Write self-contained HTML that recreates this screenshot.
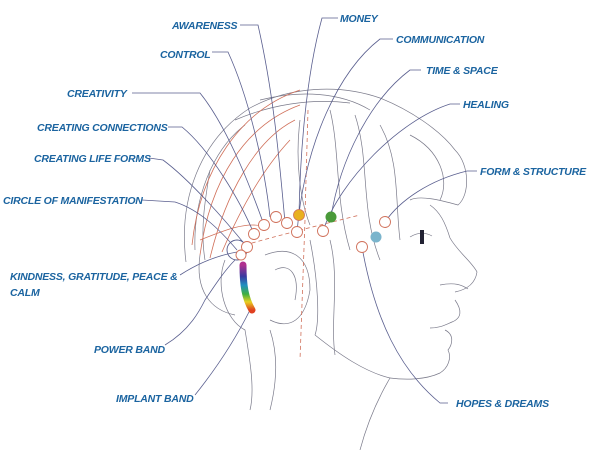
<!DOCTYPE html>
<html><head><meta charset="utf-8"><style>
html,body{margin:0;padding:0;background:#fff}
svg{display:block}
text{font-family:"Liberation Sans",sans-serif;font-weight:bold;font-style:italic;font-size:10.5px;fill:#1b64a0;letter-spacing:-0.2px}
.l{fill:none;stroke:#5a5f8f;stroke-width:0.8}
.h{fill:none;stroke:#7a7a8a;stroke-width:0.7}
.r{fill:none;stroke:#d0705a;stroke-width:0.8}
.c{fill:#fff;stroke:#d0705a;stroke-width:0.9}
</style></head><body>
<svg width="600" height="450" viewBox="0 0 600 450">
<defs><linearGradient id="rb" x1="0" y1="0" x2="0" y2="1">
<stop offset="0" stop-color="#b0308f"/><stop offset="0.25" stop-color="#3a3aa0"/><stop offset="0.45" stop-color="#2090c0"/><stop offset="0.65" stop-color="#40b040"/><stop offset="0.82" stop-color="#e8d020"/><stop offset="1" stop-color="#e04020"/></linearGradient></defs>
<!-- head outline -->
<path class="h" d="M186,262 C178,200 200,140 250,108 C290,86 340,84 380,98 C410,110 440,130 455,150"/>
<path class="h" d="M195,250 C193,200 212,150 245,125"/>
<path class="h" d="M455,150 C470,165 470,195 458,205 C440,200 420,195 410,200"/>
<path class="h" d="M430,205 C440,212 445,222 450,238 C458,252 472,262 477,272 C475,285 465,290 455,292"/>
<path class="h" d="M440,285 C455,282 462,285 468,289"/>
<path class="h" d="M455,300 C462,310 462,318 452,322 C445,325 440,328 430,328"/>
<path class="h" d="M445,330 C455,335 452,345 448,350 C452,358 448,368 440,373 C425,380 405,380 390,378"/>
<path class="h" d="M315,335 C340,355 365,372 390,378 C380,395 368,420 360,450"/>
<path class="h" d="M410,237 C418,232 425,232 432,236"/>
<rect x="420" y="230" width="4" height="14" fill="#223"/>
<!-- hair strands -->
<path class="h" d="M260,100 C300,90 340,92 370,110"/>
<path class="h" d="M235,120 C270,105 310,98 350,103"/>
<path class="h" d="M330,110 C340,150 335,200 350,250"/>
<path class="h" d="M355,115 C370,160 360,210 380,260"/>
<path class="h" d="M380,125 C400,160 395,200 400,240"/>
<path class="h" d="M410,135 C440,150 450,180 440,200"/>
<path class="h" d="M300,120 C295,160 300,200 310,225"/>
<path class="h" d="M210,170 C205,200 200,230 205,260"/>
<path class="h" d="M200,255 C195,290 210,310 235,315"/>
<path class="h" d="M225,260 C215,285 225,320 245,330 C250,360 255,390 250,410"/>
<path class="h" d="M265,255 C290,245 310,255 310,290 C305,320 290,330 270,320"/>
<path class="h" d="M275,270 C290,262 300,275 295,300"/>
<path class="h" d="M330,240 C340,280 330,320 335,355"/>
<path class="h" d="M310,240 C318,280 320,320 315,335"/>
<path class="h" d="M270,330 C280,360 275,390 270,410"/>
<!-- red lines: concentric arcs -->
<path class="r" d="M192,245 C200,170 240,110 300,90"/>
<path class="r" d="M200,255 C210,180 245,125 300,105"/>
<path class="r" d="M210,258 C225,195 255,140 295,120"/>
<path class="r" d="M222,252 C240,210 262,170 290,140"/>
<path class="r" d="M200,240 C225,230 245,222 262,226"/>
<path class="r" stroke-dasharray="4,3" d="M245,245 C280,235 320,225 360,215"/>
<path class="r" stroke-dasharray="4,3" d="M305,220 L300,360"/>
<path class="r" stroke-dasharray="4,3" d="M308,110 L305,215"/>
<!-- leader lines -->
<path class="l" d="M240,25 L258,25 C275,100 280,170 285,222"/>
<path class="l" d="M212,52 L228,52 C250,100 265,170 270,217"/>
<path class="l" d="M132,93 L200,93 C230,130 255,200 264,225"/>
<path class="l" d="M168,127 L182,127 C210,150 240,200 254,234"/>
<path class="l" d="M149,158 L163,160 C190,180 225,220 247,247"/>
<path class="l" d="M142,200 L175,202 C200,210 220,230 237,250"/>
<path class="l" d="M180,275 C200,262 220,255 237,252"/>
<path class="l" d="M165,345 C190,330 200,310 205,300 C215,285 225,270 235,260"/>
<path class="l" d="M195,395 C215,370 235,340 250,310"/>
<path class="l" d="M338,18 L322,18 C305,80 300,160 299,215"/>
<path class="l" d="M393,39 L380,39 C340,70 305,140 297,232"/>
<path class="l" d="M421,70 L410,70 C370,100 340,160 331,217"/>
<path class="l" d="M460,104 L450,104 C400,120 340,180 323,231"/>
<path class="l" d="M477,171 L467,171 C430,180 400,200 385,222"/>
<path class="l" d="M448,403 L440,403 C400,370 375,320 362,247"/>
<!-- circles -->
<circle cx="237" cy="250" r="10" fill="none" stroke="#5a5f8f" stroke-width="0.9"/>
<circle class="c" cx="247" cy="247" r="5.5"/>
<circle class="c" cx="241" cy="255" r="5"/>
<circle class="c" cx="254" cy="234" r="5.5"/>
<circle class="c" cx="264" cy="225" r="5.5"/>
<circle class="c" cx="276" cy="217" r="5.5"/>
<circle class="c" cx="287" cy="223" r="5.5"/>
<circle cx="299" cy="215" r="5.5" fill="#e8b020" stroke="#d0705a" stroke-width="0.8"/>
<circle class="c" cx="297" cy="232" r="5.5"/>
<circle class="c" cx="323" cy="231" r="5.5"/>
<circle cx="331" cy="217" r="5.5" fill="#4a9a3a"/>
<circle class="c" cx="385" cy="222" r="5.5"/>
<circle cx="376" cy="237" r="5.5" fill="#7ab4cc"/>
<circle class="c" cx="362" cy="247" r="5.5"/>
<path d="M243,265 C243,285 245,298 252,310" stroke="url(#rb)" stroke-width="7" fill="none" stroke-linecap="round"/>
<!-- labels -->
<text x="172" y="29">AWARENESS</text>
<text x="160" y="58">CONTROL</text>
<text x="67" y="97">CREATIVITY</text>
<text x="37" y="131">CREATING CONNECTIONS</text>
<text x="34" y="162">CREATING LIFE FORMS</text>
<text x="3" y="204">CIRCLE OF MANIFESTATION</text>
<text x="10" y="280">KINDNESS, GRATITUDE, PEACE &amp;</text>
<text x="10" y="296">CALM</text>
<text x="94" y="353">POWER BAND</text>
<text x="116" y="402">IMPLANT BAND</text>
<text x="340" y="22">MONEY</text>
<text x="396" y="43">COMMUNICATION</text>
<text x="426" y="74">TIME &amp; SPACE</text>
<text x="463" y="108">HEALING</text>
<text x="480" y="175">FORM &amp; STRUCTURE</text>
<text x="456" y="407">HOPES &amp; DREAMS</text>
</svg>
</body></html>
